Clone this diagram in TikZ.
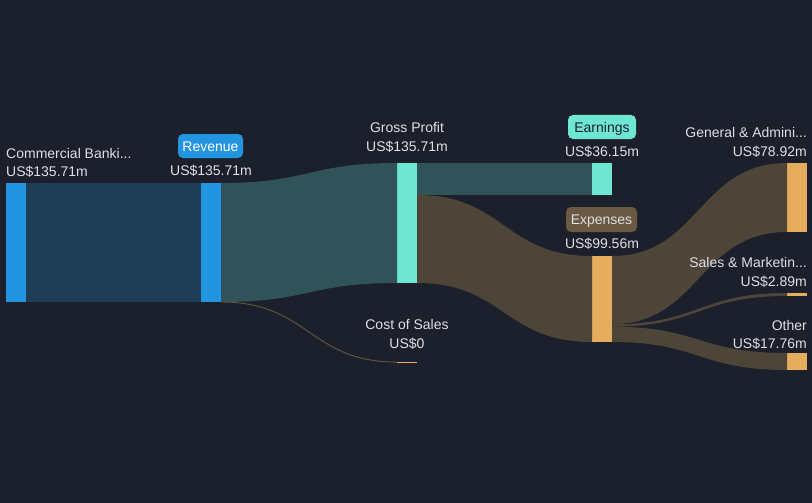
\documentclass[tikz,border=0pt]{standalone}
\usepackage{fontspec}
\setmainfont{Liberation Sans}
\usetikzlibrary{calc}
\definecolor{bg}{HTML}{1B202C}
\definecolor{nblue}{HTML}{2394DF}
\definecolor{lblue}{HTML}{1D3D57}
\definecolor{nteal}{HTML}{6EE6D2}
\definecolor{lteal}{HTML}{30535A}
\definecolor{norange}{HTML}{E5AD5D}
\definecolor{lbrown}{HTML}{4E4539}
\definecolor{bbrown}{HTML}{6B5A43}
\definecolor{txt}{HTML}{DCDFE4}
\tikzset{
  bar/.style={rectangle, inner sep=0pt, outer sep=0pt, anchor=north west, minimum width=20pt},
  lab/.style={inner sep=0pt, text=txt, font=\fontsize{14}{16}\selectfont, anchor=base},
  badge/.style={rounded corners=5pt, inner sep=0pt, font=\fontsize{14}{16}\selectfont, text height=10pt, text depth=0pt, minimum height=24pt},
}
\begin{document}
\begin{tikzpicture}[x=1pt,y=-1pt]
\fill[bg] (0,0) rectangle (812,503);
\useasboundingbox (0,0) rectangle (812,503);

% nodes
\node[bar, fill=nblue, minimum height=119pt] (cb) at (6,183) {};
\node[bar, fill=nblue, minimum height=119pt] (rev) at (201,183) {};
\node[bar, fill=nteal, minimum height=120pt] (gp) at (397,163) {};
\node[bar, fill=norange, minimum height=1.2pt] (cos) at (397,361.5) {};
\node[bar, fill=nteal, minimum height=32pt] (earn) at (592,163) {};
\node[bar, fill=norange, minimum height=86pt] (exp) at (592,256) {};
\node[bar, fill=norange, minimum height=69pt] (gen) at (787,163) {};
\node[bar, fill=norange, minimum height=3pt] (sal) at (787,293) {};
\node[bar, fill=norange, minimum height=17pt] (oth) at (787,353) {};

% links
\fill[lblue] (cb.north east) rectangle (rev.south west);
\fill[lteal] (rev.north east) .. controls (309,183) and (309,163) .. (gp.north west)
   -- (gp.south west) .. controls (309,283) and (309,302) .. (rev.south east) -- cycle;
\draw[lbrown!85!norange, line width=0.9pt] (rev.south east) .. controls (309,302) and (309,362) .. (cos.west);
\fill[lteal] (gp.north east) rectangle (earn.south west);
\coordinate (gpe) at ($(gp.north east)+(0,32)$);
\fill[lbrown] (gpe) .. controls (504,195) and (504,256) .. (exp.north west)
   -- (exp.south west) .. controls (504,342) and (504,283) .. (gp.south east) -- cycle;
\coordinate (e1) at ($(exp.north east)+(0,68.2)$);
\coordinate (e2) at ($(exp.north east)+(0,70.7)$);
\fill[lbrown] (exp.north east) .. controls (699,256) and (699,163) .. (gen.north west)
   -- (gen.south west) .. controls (699,232) and (699,324.2) .. (e1) -- cycle;
\fill[lbrown] (e1) .. controls (699,324.2) and (699,293) .. (sal.north west)
   -- (sal.south west) .. controls (699,296) and (699,326.7) .. (e2) -- cycle;
\fill[lbrown] (e2) .. controls (699,326.7) and (699,353) .. (oth.north west)
   -- (oth.south west) .. controls (699,370) and (699,342) .. (exp.south east) -- cycle;

% labels
\node[lab, anchor=base west] (cbl) at (6,158) {Commercial Banki...};
\node[lab, anchor=base west] (cbv) at (6,176) {US\$135.71m};
\node[badge, fill=nblue, text=white, minimum width=65pt] (revl) at (210.5,146) {Revenue};
\node[lab] (revv) at (211,175) {US\$135.71m};
\node[lab] (gpl) at (407,132) {Gross Profit};
\node[lab] (gpv) at (407,151) {US\$135.71m};
\node[badge, fill=nteal, text=bg, minimum width=68pt] (earnl) at (602,127) {Earnings};
\node[lab] (earnv) at (602,157) {US\$36.15m};
\node[badge, fill=bbrown, text=txt, minimum width=71pt, minimum height=25pt] (expl) at (601.5,219.5) {Expenses};
\node[lab] (expv) at (602,248) {US\$99.56m};
\node[lab, anchor=base east] (genl) at (807,138) {General \& Admini...};
\node[lab, anchor=base east] (genv) at (807,157) {US\$78.92m};
\node[lab, anchor=base east] (sall) at (807,267) {Sales \& Marketin...};
\node[lab, anchor=base east] (salv) at (807,286) {US\$2.89m};
\node[lab, anchor=base east] (othl) at (807,330) {Other};
\node[lab, anchor=base east] (othv) at (807,348) {US\$17.76m};
\node[lab] (cosl) at (407,329) {Cost of Sales};
\node[lab] (cosv) at (407,348) {US\$0};
\end{tikzpicture}
\end{document}
